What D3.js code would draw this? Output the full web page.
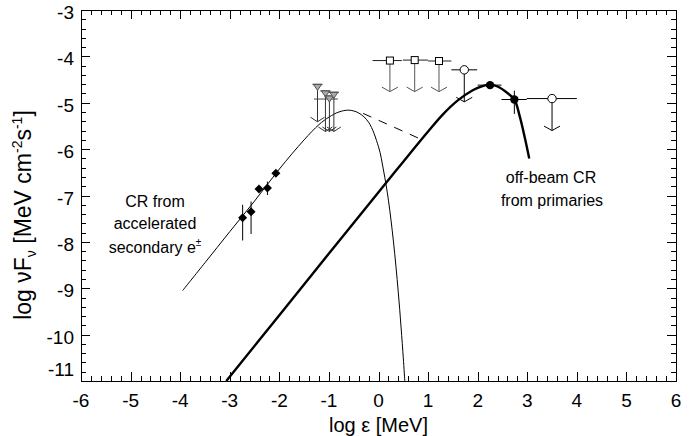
<!DOCTYPE html>
<html lang="en">
<head>
<meta charset="UTF-8">
<title>CR spectrum</title>
<script src="https://d3js.org/d3.v7.min.js"></script>
<style>
    body { margin: 0; background: #fff; }
    svg { display: block; font-family: "Liberation Sans", Arial, sans-serif; }
</style>
</head>
<body>
<div id="chart"></div>
<script>
    // model curves (log eps, log nuF)
    const thinX = [-3.95, -3.5, -3.0, -2.5, -2.0, -1.5, -1.2, -1.0, -0.8, -0.6, -0.4, -0.2, 0.0, 0.1, 0.2, 0.3, 0.4, 0.5, 0.53];
    const thinY = [-9.05, -8.45, -7.78, -7.12, -6.43, -5.80, -5.47, -5.31, -5.20, -5.16, -5.22, -5.42, -5.95, -6.45, -7.10, -7.98, -9.10, -10.50, -11.0];

    const thickX = [-3.07, -2.0, -1.0, 0.0, 0.5, 1.0, 1.3, 1.6, 1.9, 2.1, 2.25, 2.4, 2.6, 2.74, 2.85, 2.95, 3.04];
    const thickY = [-11.0, -9.58, -8.25, -6.93, -6.27, -5.62, -5.25, -4.95, -4.73, -4.64, -4.61, -4.65, -4.79, -4.93, -5.30, -5.75, -6.20];

    const dashX = [-0.31, 0.80];
    const dashY = [-5.23, -5.76];

    // diamonds with vertical errors
    const dmX = [-2.74, -2.57, -2.41, -2.24, -2.07];
    const dmY = [-7.48, -7.35, -6.86, -6.84, -6.52];
    const dmLo = [-7.97, -7.83, -6.86, -6.99, -6.52];
    const dmHi = [-7.20, -7.13, -6.86, -6.70, -6.52];

    // triangle upper limits
    const trX = [-1.23, -1.07, -0.99, -0.90];
    const trY = [-4.67, -4.81, -4.92, -4.84];
    const trTip = [-5.41, -5.62, -5.62, -5.62];
    const trLo = [-1.23, -1.07, -1.30, -0.90];
    const trHi = [-1.23, -1.07, -0.82, -0.90];

    // square upper limits
    const sqX = [0.23, 0.73, 1.22];
    const sqY = [-4.09, -4.08, -4.10];
    const sqLo = [-0.12, 0.49, 1.00];
    const sqHi = [0.47, 1.00, 1.47];
    const sqTip = [-4.76, -4.76, -4.76];

    // open circle upper limits
    const ocX = [1.73, 3.50];
    const ocY = [-4.29, -4.91];
    const ocLo = [1.47, 2.99];
    const ocHi = [1.99, 4.00];
    const ocTip = [-4.98, -5.60];

    // filled circles
    const fcX = [2.25, 2.74];
    const fcY = [-4.62, -4.93];
    const fcLo = [2.00, 2.48];
    const fcHi = [2.48, 2.99];
    const fcErrLo = [-4.62, -5.24];
    const fcErrHi = [-4.62, -4.74];

    const xTicks = [-6, -5, -4, -3, -2, -1, 0, 1, 2, 3, 4, 5, 6];
    const yTicks = [-3, -4, -5, -6, -7, -8, -9, -10, -11];

    const width = 698, height = 436;
    const margin = {top: 10, right: 22, bottom: 55, left: 81};

    const x = d3.scaleLinear().domain([-6, 6]).range([margin.left, width - margin.right]);
    const y = d3.scaleLinear().domain([-11, -3]).range([height - margin.bottom, margin.top]);

    const svg = d3.select("#chart").append("svg")
        .attr("width", width)
        .attr("height", height);

    svg.append("defs").append("clipPath").attr("id", "clip")
        .append("rect")
        .attr("x", margin.left).attr("y", margin.top)
        .attr("width", width - margin.left - margin.right)
        .attr("height", height - margin.top - margin.bottom);

    // ticks on all four sides, pointing inward
    const minorX = d3.range(-6, 6.001, 0.2);
    const minorY = d3.range(-11, -2.999, 0.2);
    const isMajor = v => Math.abs(v - Math.round(v)) < 1e-6;
    const ticks = svg.append("g").attr("stroke", "#000").attr("stroke-width", 1);
    minorX.forEach(v => {
        const len = isMajor(v) ? 9 : 5;
        const px = Math.round(x(v)) + 0.5;
        ticks.append("line").attr("x1", px).attr("x2", px)
            .attr("y1", y(-11)).attr("y2", y(-11) - len);
        ticks.append("line").attr("x1", px).attr("x2", px)
            .attr("y1", y(-3)).attr("y2", y(-3) + len);
    });
    minorY.forEach(v => {
        const len = isMajor(v) ? 9 : 5;
        const py = Math.round(y(v)) + 0.5;
        ticks.append("line").attr("y1", py).attr("y2", py)
            .attr("x1", x(-6)).attr("x2", x(-6) + len);
        ticks.append("line").attr("y1", py).attr("y2", py)
            .attr("x1", x(6)).attr("x2", x(6) - len);
    });

    svg.append("rect")
        .attr("x", x(-6) + 0.5).attr("y", y(-3) + 0.5)
        .attr("width", x(6) - x(-6)).attr("height", y(-11) - y(-3))
        .attr("fill", "none").attr("stroke", "#000").attr("stroke-width", 1);

    // tick labels
    svg.append("g").selectAll("text").data(xTicks).join("text")
        .attr("x", d => x(d))
        .attr("y", 407)
        .attr("text-anchor", "middle")
        .attr("font-size", 19)
        .text(d => d);

    svg.append("g").selectAll("text").data(yTicks).join("text")
        .attr("x", x(-6) - 7)
        .attr("y", d => d === -11 ? 376 : y(d) + 9)
        .attr("text-anchor", "end")
        .attr("font-size", 19)
        .text(d => d);

    // axis titles
    svg.append("text")
        .attr("x", x(0)).attr("y", 432)
        .attr("text-anchor", "middle")
        .attr("font-size", 20)
        .text("log ε [MeV]");

    const yt = svg.append("text")
        .attr("transform", `translate(31,215) rotate(-90)`)
        .attr("text-anchor", "middle")
        .attr("font-size", 23);
    yt.append("tspan").text("log  νF");
    yt.append("tspan").attr("font-size", 14).attr("dy", 5).text("ν");
    yt.append("tspan").attr("dy", -5).text("  [MeV cm");
    yt.append("tspan").attr("font-size", 14).attr("dy", -9).text("-2");
    yt.append("tspan").attr("dy", 9).text("s");
    yt.append("tspan").attr("font-size", 14).attr("dy", -9).text("-1");
    yt.append("tspan").attr("dy", 9).text("]");

    // curves
    const plot = svg.append("g").attr("clip-path", "url(#clip)");
    const line = d3.line().x(d => x(d[0])).y(d => y(d[1])).curve(d3.curveCatmullRom);

    plot.append("path")
        .datum(d3.zip(thinX, thinY))
        .attr("fill", "none").attr("stroke", "#000").attr("stroke-width", 1)
        .attr("d", line);

    plot.append("path")
        .datum(d3.zip(thickX, thickY))
        .attr("fill", "none").attr("stroke", "#000").attr("stroke-width", 2.4)
        .attr("d", line);

    plot.append("path")
        .datum(d3.zip(dashX, dashY))
        .attr("fill", "none").attr("stroke", "#000").attr("stroke-width", 1)
        .attr("stroke-dasharray", "9,8")
        .attr("d", d3.line().x(d => x(d[0])).y(d => y(d[1])));

    const marks = svg.append("g");

    function arrow(g, cx, y0, tip, hw, color) {
        const ty = y(tip);
        g.append("line").attr("x1", x(cx)).attr("x2", x(cx))
            .attr("y1", y(y0)).attr("y2", ty)
            .attr("stroke", color).attr("stroke-width", 1);
        g.append("path")
            .attr("d", `M${x(cx) - hw},${ty - 4.5}L${x(cx)},${ty}L${x(cx) + hw},${ty - 4.5}`)
            .attr("fill", "none").attr("stroke", color).attr("stroke-width", 1);
    }

    function hbar(g, lo, hi, yv, color) {
        g.append("line").attr("x1", x(lo)).attr("x2", x(hi))
            .attr("y1", y(yv)).attr("y2", y(yv))
            .attr("stroke", color).attr("stroke-width", 1);
    }

    // triangles
    trX.forEach((v, i) => {
        hbar(marks, trLo[i], trHi[i], trY[i], "#444");
        arrow(marks, v, trY[i], trTip[i], 7, "#333");
    });
    trX.forEach((v, i) => {
        const cx = x(v), cy = y(trY[i]);
        marks.append("line").attr("x1", cx - 5).attr("x2", cx + 5)
            .attr("y1", cy - 3).attr("y2", cy - 3)
            .attr("stroke", "#555").attr("stroke-width", 1.5);
        marks.append("path")
            .attr("d", `M${cx - 4},${cy - 3}L${cx + 4},${cy - 3}L${cx},${cy + 3}Z`)
            .attr("fill", "#aaa").attr("stroke", "#555").attr("stroke-width", 1);
    });

    // squares
    sqX.forEach((v, i) => {
        hbar(marks, sqLo[i], sqHi[i], sqY[i], "#222");
        arrow(marks, v, sqY[i], sqTip[i], 8, "#555");
        marks.append("rect")
            .attr("x", x(v) - 3.5).attr("y", y(sqY[i]) - 3.5)
            .attr("width", 7).attr("height", 7)
            .attr("fill", "#fff").attr("stroke", "#000").attr("stroke-width", 1);
    });

    // open circles
    ocX.forEach((v, i) => {
        hbar(marks, ocLo[i], ocHi[i], ocY[i], "#000");
        arrow(marks, v, ocY[i], ocTip[i], 8, "#000");
        marks.append("circle")
            .attr("cx", x(v)).attr("cy", y(ocY[i])).attr("r", 4.2)
            .attr("fill", "#fff").attr("stroke", "#000").attr("stroke-width", 1);
    });

    // filled circles
    fcX.forEach((v, i) => {
        hbar(marks, fcLo[i], fcHi[i], fcY[i], "#000");
        marks.append("line").attr("x1", x(v)).attr("x2", x(v))
            .attr("y1", y(fcErrLo[i])).attr("y2", y(fcErrHi[i]))
            .attr("stroke", "#000").attr("stroke-width", 1);
        marks.append("circle")
            .attr("cx", x(v)).attr("cy", y(fcY[i])).attr("r", 4.2)
            .attr("fill", "#000");
    });

    // diamonds
    dmX.forEach((v, i) => {
        marks.append("line").attr("x1", x(v)).attr("x2", x(v))
            .attr("y1", y(dmLo[i])).attr("y2", y(dmHi[i]))
            .attr("stroke", "#000").attr("stroke-width", 1);
        const cx = x(v), cy = y(dmY[i]);
        marks.append("path")
            .attr("d", `M${cx},${cy - 4.5}L${cx + 4.5},${cy}L${cx},${cy + 4.5}L${cx - 4.5},${cy}Z`)
            .attr("fill", "#000");
    });

    // annotations
    const notes = svg.append("g").attr("font-size", 16).attr("text-anchor", "middle");
    notes.append("text").attr("x", 155).attr("y", 207).text("CR from");
    notes.append("text").attr("x", 155).attr("y", 229).text("accelerated");
    const sec = notes.append("text").attr("x", 155).attr("y", 253);
    sec.append("tspan").text("secondary e");
    sec.append("tspan").attr("font-size", 10).attr("dy", -7).text("±");

    notes.append("text").attr("x", 551).attr("y", 183).text("off-beam CR");
    notes.append("text").attr("x", 552).attr("y", 206).text("from primaries");
</script>
</body>
</html>
